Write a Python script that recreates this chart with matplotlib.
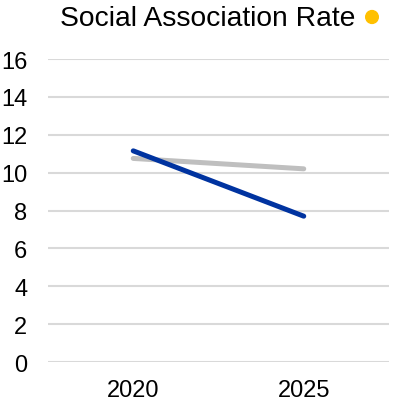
import matplotlib.pyplot as plt
import numpy as np

plt.rcParams['font.family'] = ['Liberation Sans', 'DejaVu Sans']

years = ['2020', '2025']
rate_main = [11.15, 7.7]
rate_ref = [10.75, 10.2]
yticks = [0, 2, 4, 6, 8, 10, 12, 14, 16]

fig = plt.figure(figsize=(3.94, 4.02), dpi=100)
ax = fig.add_axes([48 / 394, 1 - 363 / 402, 341 / 394, 303 / 402])

x = np.arange(len(years))
ax.plot(x, rate_ref, color='#bfbfbf', lw=3.6, solid_capstyle='round', zorder=3)
ax.plot(x, rate_main, color='#0033a0', lw=3.6, solid_capstyle='round', zorder=4)

ax.set_xlim(-0.5, 1.5)
ax.set_ylim(0, 16)
ax.set_yticks(yticks)
ax.set_xticks(x)
ax.set_xticklabels(years)
ax.tick_params(length=0, labelsize=17, colors='black')
ax.tick_params(axis='y', pad=15)
ax.tick_params(axis='x', pad=12)
ax.grid(axis='y', color='#d9d9d9', lw=1.5)
ax.set_axisbelow(True)
for s in ax.spines.values():
    s.set_visible(False)

fig.text(355 / 394, 1 - 19 / 402, 'Social Association Rate', ha='right', va='center', fontsize=20.3)
fig.patches.append(plt.Circle((372 / 394, 1 - 18 / 402), 0.016, transform=fig.transFigure,
                              color='#ffc000', figure=fig))

fig.savefig('out.png', dpi=100)
